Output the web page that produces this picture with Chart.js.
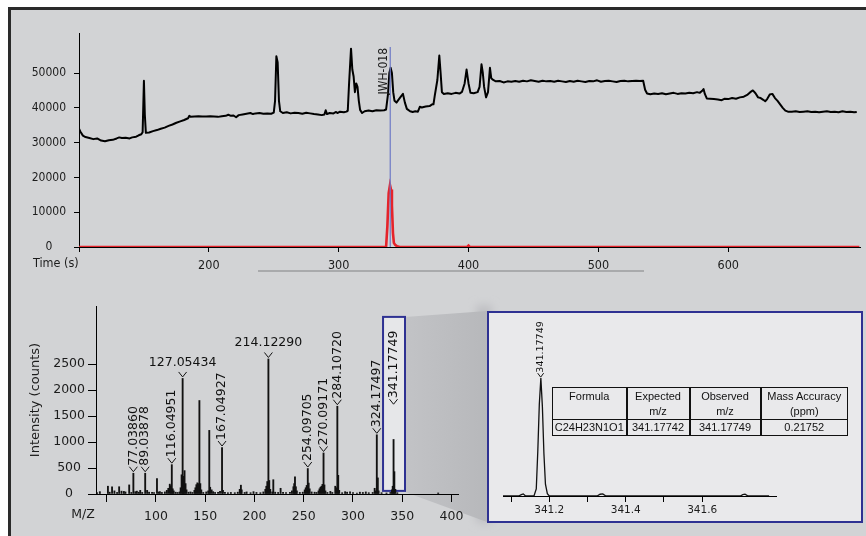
<!DOCTYPE html>
<html>
<head>
<meta charset="utf-8">
<script src="https://cdn.jsdelivr.net/npm/chart.js@4.4.0/dist/chart.umd.min.js"></script>
<style>
  html, body { margin:0; padding:0; background:#ffffff; }
  body { width:866px; height:536px; overflow:hidden; position:relative; }
  .abs { position:absolute; }
  #panel { left:8px; top:7px; width:870px; height:540px; background:#d2d3d5;
           border-top:3px solid #2a2a2a; border-left:3px solid #2a2a2a; box-sizing:border-box; }
  #scrollLine { left:258px; top:270px; width:386px; height:2px; background:#a9aaac; }
  #insetBox { left:487px; top:311px; width:376px; height:212px; box-sizing:border-box;
              border:2.5px solid #2e3192; background:#e9e9eb; }
  #acc { left:552px; top:387px; border-collapse:collapse; table-layout:fixed; width:295px;
         font-family:'Liberation Sans', Arial, sans-serif; font-size:11px; color:#111; }
  #acc td { border:1px solid #111; padding:0; text-align:center; line-height:14.6px; }
  #acc td + td { border-left:2px solid #111; }
  #acc tr.h td { height:30px; vertical-align:top; padding-top:1px; }
  #acc tr.d td { height:15px; vertical-align:middle; }
</style>
</head>
<body>
<div id="panel" class="abs"></div>
<div id="scrollLine" class="abs"></div>
<svg class="abs" style="left:0;top:0" width="866" height="536">
  <defs>
    <linearGradient id="fan" x1="0" x2="1" y1="0" y2="0">
      <stop offset="0" stop-color="#c2c3c6"/>
      <stop offset="1" stop-color="#b7b8bb"/>
    </linearGradient>
    <filter id="soft" x="-50%" y="-20%" width="200%" height="140%"><feGaussianBlur stdDeviation="4"/></filter>
  </defs>
  <rect x="476" y="305" width="16" height="218" fill="#bfc0c3" filter="url(#soft)"/>
  <polygon points="405,317 487,311 487,522 405,492" fill="url(#fan)"/>
</svg>
<div id="insetBox" class="abs"></div>
<canvas id="insetChart" class="abs" style="left:487px;top:311px" width="376" height="212"></canvas>
<table id="acc" class="abs">
  <colgroup><col style="width:74px"><col style="width:63px"><col style="width:71px"><col style="width:87px"></colgroup>
  <tr class="h"><td>Formula</td><td>Expected<br>m/z</td><td>Observed<br>m/z</td><td>Mass Accuracy<br>(ppm)</td></tr>
  <tr class="d"><td>C24H23N1O1</td><td>341.17742</td><td>341.17749</td><td>0.21752</td></tr>
</table>
<canvas id="ticChart" class="abs" style="left:0;top:0" width="866" height="290"></canvas>
<canvas id="specChart" class="abs" style="left:0;top:290px" width="480" height="246"></canvas>

<script>
// ---------------- DATA ----------------
// Total ion chromatogram (time s, intensity)
const ticTime = [100,101,103,105,108,111,114,117,120,123,126,129,131,133,136,139,141,144,146,148,149,150,150.7,151.5,154,157,160,163,166,169,172,175,178,181,184,185,186,189,192,195,198,201,204,207,210,213,215,217,219,221,223,226,229,232,234,236,239,242,245,248,250,251,252,253,254,255,257,260,263,266,269,272,275,278,281,284,287,289,290,291,293,296,298,299,301,304,306,307,308,309.5,310.5,311.5,312.5,313.5,314.5,315.5,316.5,318,320,323,326,329,332,335,336.5,338,339,340,341,342,343,344.5,346,348,349.5,351,352.5,355,357,359,361,362.5,364,367,370,372,373,374,376,377.5,378.5,379.5,381,384,387,390,393,395,397,398.5,400,401.5,404,407,408.5,410,411,412,413.5,415,416.5,417.5,419,421,424,427,430,433,436,439,442,445,448,451,454,457,460,463,466,469,472,475,478,481,484,487,490,493,496,499,502,505,508,511,514,517,520,523,526,529,532,534.5,536,537.5,540,543,546,549,552,555,558,561,564,567,570,573,576,578,580,581,582,583.5,586,589,592,595,597,600,603,606,609,612,615,617,619,621,623,625,627,628.5,630,632,634,636,638,640,642,644,646,649,652,655,658,661,664,667,670,673,676,679,682,685,688,691,694,697,699];
const ticIntensity = [34000,33200,32000,31600,31300,31000,31200,30600,30400,30700,30800,31200,31500,31300,31400,31200,31500,31700,32100,32400,33000,47800,38000,32800,32900,33300,33600,34000,34300,34800,35200,35700,36100,36500,37000,37700,37400,37500,37600,37500,37500,37600,37500,37400,37600,37700,38000,37700,37800,37300,37900,38100,38300,38500,38200,38400,38500,38300,38400,38300,38600,42000,54800,53000,42000,39000,38500,38700,38400,38600,38500,38300,38600,38400,38200,38100,37900,38100,39300,38200,38500,38400,38800,38500,38900,38700,38900,39200,47000,57000,51000,49000,44500,47000,46000,42000,39400,38500,39000,39200,39000,39300,39200,39300,39500,44000,50000,51500,50000,44500,42000,41500,42300,43300,44000,41500,39700,39000,38800,39000,38900,40300,40100,40400,40500,41000,41000,43500,48000,55000,50000,44500,44000,44200,44000,44300,44100,44600,47000,51000,47000,44300,44200,44500,46000,52500,50000,46000,43000,44500,51500,48500,48000,47600,47700,47300,47600,47500,47700,47500,47800,47600,47900,47700,47500,47800,47600,47700,47500,47800,47600,47400,47700,47500,47800,47600,47400,47700,47600,47900,47500,47700,47800,47600,47400,47700,47800,47600,47700,47800,47700,47800,45200,44100,43900,44100,44000,44200,43900,44100,44300,44000,44200,44100,44300,44200,44500,44300,44900,45400,44000,42700,42600,42500,42400,42200,42600,42500,42800,42600,43000,43200,43800,44500,45000,44200,43000,42800,42300,41900,42500,43800,44000,42800,42000,41000,40000,39200,38900,38900,39000,38800,38900,39000,38800,38900,38700,38900,39000,38800,38900,38700,39000,38800,38900,38700,38800];
// Extracted ion chromatogram for JWH-018
const eicTime = [100,336.5,337.5,338.5,339.5,340.3,341,341.8,342.5,343.5,345,347,399,400,401,701];
const eicIntensity = [0,0,6000,15500,17800,16500,12000,4000,1200,600,200,0,0,400,0,0];
const markerName = 'JWH-018';
const markerTime = 339.7;
const markerTopIntensity = 57500;
const timeTicks = [100,200,300,400,500,600];
const ticIntensityTicks = [0,10000,20000,30000,40000,50000];

// Mass spectrum (m/z, counts)
const peakMz = [40.2,43.0,51.2,53.0,55.4,57.8,60.5,62.6,65.0,67.4,69.0,72.8,75.0,77.04,79.0,80.6,82.5,84.0,86.0,89.04,91.0,93.0,96.0,98.0,101.0,102.5,104.0,106.0,109.0,111.0,112.5,114.0,115.0,116.05,117.0,118.0,120.0,122.0,124.0,125.0,126.0,127.05,127.6,128.1,129.0,130.0,131.0,133.0,135.0,137.0,139.0,140.0,141.0,142.0,143.0,144.07,145.0,146.0,148.0,151.0,153.0,154.1,155.0,156.5,158.0,160.0,163.0,165.0,167.05,168.0,170.0,173.0,176.0,180.0,183.0,185.0,186.2,187.0,190.0,192.0,196.0,199.0,202.0,206.0,209.0,211.0,212.0,213.0,214.12,215.0,216.0,218.0,219.1,221.0,224.0,226.5,229.0,232.0,236.0,238.0,239.5,240.3,241.1,242.0,243.0,246.0,249.0,251.0,252.0,253.0,254.1,255.0,256.0,258.0,261.0,263.0,265.0,266.0,267.0,268.0,269.0,270.09,271.0,272.0,274.0,277.0,279.0,282.0,283.0,284.11,285.0,286.0,289.0,292.0,294.0,297.0,300.0,304.0,307.0,310.0,313.0,316.0,320.0,322.0,323.0,324.17,325.2,326.0,329.0,334.0,338.0,339.5,340.3,341.18,342.0,343.0,345.0,386.5];
const peakIntensity = [25,45,150,35,140,60,30,140,55,50,40,175,30,400,45,55,35,70,30,400,70,35,30,25,295,40,45,30,40,70,110,190,160,565,100,60,35,30,40,120,370,2225,340,280,450,200,80,35,40,30,70,120,180,215,200,1800,200,80,30,40,60,1225,130,80,45,30,30,50,895,70,30,25,30,25,35,90,170,80,30,40,25,45,30,25,40,90,150,240,2600,260,90,40,275,35,30,110,30,25,30,60,140,200,330,140,60,30,35,80,120,165,490,210,100,40,35,30,60,100,130,150,185,790,175,60,30,50,30,150,120,1690,360,70,25,45,35,40,25,20,35,30,40,25,30,110,60,1140,310,60,25,20,30,80,150,1050,430,90,25,20];
const labelMz = [77.0386,89.03878,116.04951,127.05434,167.04927,214.1229,254.09705,270.09171,284.1072,324.17497,341.17749];
const labelText = ['77.03860','89.03878','116.04951','127.05434','167.04927','214.12290','254.09705','270.09171','284.10720','324.17497','341.17749'];
const labelIntensity = [400,400,565,2225,895,2600,490,790,1690,1140,1700];
const horizontalLabels = ['127.05434','214.12290'];
const zoomMzRange = [330.5,352.8];
const zoomIntensityRange = [60,3410];
const mzTicks = [50,100,150,200,250,300,350,400];
const countTicks = [0,500,1000,1500,2000,2500];

// Zoomed isotope region (m/z, relative intensity)
const insetMz = [341.079,341.120,341.127,341.132,341.138,341.160,341.166,341.170,341.174,341.178,341.182,341.186,341.190,341.195,341.200,341.325,341.333,341.340,341.348,341.700,341.706,341.712,341.720,341.775];
const insetIntensity = [0,0,1.2,1.8,0,0,6,38,78,100,76,36,10,2,0,0,1.5,1.8,0,0,1.2,1.5,0,0];
const insetLabelMz = 341.17749;
const insetLabelText = '341.17749';
const insetLabelIntensity = 100;
const insetTicks = [341.1,341.2,341.3,341.4,341.5,341.6];

// ---------------- CHARTS ----------------
Chart.defaults.font.family = "'DejaVu Sans', sans-serif";
Chart.defaults.color = '#1c1c1c';
Chart.defaults.animation = false;

const condensed = "'DejaVu Sans Condensed', 'DejaVu Sans', sans-serif";
const keepTicks = (list) => (scale) => {
  scale.ticks = list.map(v => ({ value: v }));
};

// --- Top chromatogram ---
const ticDecor = {
  id: 'ticDecor',
  afterDatasetsDraw(chart) {
    const { ctx, scales: { x, y }, chartArea } = chart;
    const px = x.getPixelForValue(markerTime);
    const top = y.getPixelForValue(markerTopIntensity);
    ctx.save();
    ctx.strokeStyle = '#6d78c6';
    ctx.lineWidth = 1.2;
    ctx.beginPath();
    ctx.moveTo(px, top);
    ctx.lineTo(px, chartArea.bottom);
    ctx.stroke();
    ctx.translate(px - 3.5, top + 1);
    ctx.rotate(-Math.PI / 2);
    ctx.fillStyle = '#1c1c1c';
    ctx.font = "12px " + condensed;
    ctx.textAlign = 'right';
    ctx.textBaseline = 'alphabetic';
    ctx.fillText(markerName, 0, 0);
    ctx.restore();
  },
  afterDraw(chart) {
    const { ctx } = chart;
    ctx.save();
    ctx.fillStyle = '#1c1c1c';
    ctx.font = "12.5px " + condensed;
    ctx.textAlign = 'left';
    ctx.textBaseline = 'middle';
    ctx.fillText('Time (s)', 33, 264);
    ctx.restore();
  }
};

new Chart(document.getElementById('ticChart'), {
  type: 'line',
  data: {
    datasets: [
      { label: 'EIC', data: eicTime.map((t, i) => ({ x: t, y: eicIntensity[i] })),
        borderColor: '#e5232b', borderWidth: 2.6, pointRadius: 0, tension: 0, order: 0 },
      { label: 'TIC', data: ticTime.map((t, i) => ({ x: t, y: ticIntensity[i] })),
        borderColor: '#000000', borderWidth: 2, pointRadius: 0, tension: 0, order: 1, borderJoinStyle: 'round' }
    ]
  },
  options: {
    responsive: false, events: [],
    layout: { padding: { top: 33, right: 6, left: 0, bottom: 0 } },
    plugins: { legend: { display: false }, tooltip: { enabled: false } },
    scales: {
      x: {
        type: 'linear', min: 100, max: 701.5,
        border: { color: '#000', width: 1 },
        grid: { drawOnChartArea: false, tickLength: 5, tickColor: '#000' },
        ticks: { padding: 6, maxRotation: 0, autoSkip: false, font: { family: condensed, size: 12.5 },
                 callback: (v) => (v === timeTicks[0] ? '' : String(v)) },
        afterBuildTicks: keepTicks(timeTicks),
        afterFit: (s) => { s.height = 43; }
      },
      y: {
        min: 0, max: 61500,
        border: { color: '#000', width: 1 },
        grid: { drawOnChartArea: false, tickLength: 5, tickColor: '#000' },
        ticks: { padding: 8, crossAlign: 'center', font: { family: condensed, size: 12 },
                 callback: (v) => String(v) },
        afterBuildTicks: keepTicks(ticIntensityTicks),
        afterFit: (s) => { s.width = 79; }
      }
    }
  },
  plugins: [ticDecor]
});

// --- Mass spectrum ---
function drawChevron(ctx, px, py, half, h) {
  ctx.beginPath();
  ctx.moveTo(px - half, py - h);
  ctx.lineTo(px, py);
  ctx.lineTo(px + half, py - h);
  ctx.stroke();
}

const specDecor = {
  id: 'specDecor',
  beforeDatasetsDraw(chart) {
    const { ctx, scales: { x, y } } = chart;
    const x0 = x.getPixelForValue(zoomMzRange[0]);
    const x1 = x.getPixelForValue(zoomMzRange[1]);
    const y0 = y.getPixelForValue(zoomIntensityRange[1]);
    const y1 = y.getPixelForValue(zoomIntensityRange[0]);
    ctx.save();
    ctx.fillStyle = '#e6e7e9';
    ctx.fillRect(x0, y0, x1 - x0, y1 - y0);
    ctx.strokeStyle = '#2e3192';
    ctx.lineWidth = 2;
    ctx.strokeRect(x0, y0, x1 - x0, y1 - y0);
    ctx.restore();
  },
  afterDatasetsDraw(chart) {
    const { ctx, scales: { x, y } } = chart;
    ctx.save();
    ctx.strokeStyle = '#111';
    ctx.fillStyle = '#111';
    ctx.lineWidth = 1;
    ctx.font = "12.5px 'DejaVu Sans', sans-serif";
    labelMz.forEach((mz, i) => {
      const px = x.getPixelForValue(mz);
      const py = y.getPixelForValue(labelIntensity[i]) - 1.5;
      drawChevron(ctx, px, py, 4, 5);
      const txt = labelText[i];
      if (horizontalLabels.includes(txt)) {
        ctx.textAlign = 'center';
        ctx.textBaseline = 'alphabetic';
        ctx.fillText(txt, px, py - 11);
      } else {
        ctx.save();
        ctx.translate(px, py - 6);
        ctx.rotate(-Math.PI / 2);
        ctx.textAlign = 'left';
        ctx.textBaseline = 'middle';
        ctx.fillText(txt, 0, 0);
        ctx.restore();
      }
    });
    ctx.restore();
  },
  afterDraw(chart) {
    const { ctx, chartArea } = chart;
    ctx.save();
    ctx.strokeStyle = '#000';
    ctx.lineWidth = 1;
    ctx.beginPath();
    ctx.moveTo(chartArea.left - 6, chartArea.bottom + 0.5);
    ctx.lineTo(chartArea.left, chartArea.bottom + 0.5);
    ctx.stroke();
    ctx.fillStyle = '#1c1c1c';
    ctx.font = "12.5px 'DejaVu Sans', sans-serif";
    ctx.textAlign = 'center';
    ctx.textBaseline = 'middle';
    ctx.fillText('M/Z', 83, 225);
    ctx.restore();
  }
};

new Chart(document.getElementById('specChart'), {
  type: 'bar',
  data: {
    datasets: [{ data: peakMz.map((m, i) => ({ x: m, y: peakIntensity[i] })),
                 backgroundColor: '#111', borderWidth: 0, barThickness: 1.2 }]
  },
  options: {
    responsive: false, events: [],
    layout: { padding: { top: 16, right: 22, left: 0, bottom: 0 } },
    plugins: { legend: { display: false }, tooltip: { enabled: false } },
    scales: {
      x: {
        type: 'linear', min: 39.1, max: 406.6, offset: false,
        border: { color: '#000', width: 1 },
        grid: { offset: false, drawOnChartArea: false, tickLength: 8, tickColor: '#000' },
        ticks: { padding: 7, maxRotation: 0, autoSkip: false, font: { size: 12.5 },
                 callback: (v) => (v === mzTicks[0] ? '' : String(v)) },
        afterBuildTicks: keepTicks(mzTicks),
        afterFit: (s) => { s.height = 42; }
      },
      y: {
        min: 0, max: 3620,
        border: { color: '#000', width: 1 },
        grid: { drawOnChartArea: false, tickLength: 8, tickColor: '#000' },
        ticks: { padding: 3, crossAlign: 'center', font: { size: 12.5 }, callback: (v) => String(v) },
        title: { display: true, text: 'Intensity (counts)', font: { size: 13 }, color: '#1c1c1c', padding: { top: 28, bottom: 0 } },
        afterBuildTicks: keepTicks(countTicks),
        afterFit: (s) => { s.width = 96; }
      }
    }
  },
  plugins: [specDecor]
});

// --- Inset (zoomed region) ---
const insetDecor = {
  id: 'insetDecor',
  afterDatasetsDraw(chart) {
    const { ctx, scales: { x, y } } = chart;
    const px = x.getPixelForValue(insetLabelMz);
    const py = y.getPixelForValue(insetLabelIntensity) - 1;
    ctx.save();
    ctx.strokeStyle = '#111';
    ctx.fillStyle = '#111';
    ctx.lineWidth = 1;
    drawChevron(ctx, px, py, 3, 4);
    ctx.translate(px, py - 4.5);
    ctx.rotate(-Math.PI / 2);
    ctx.font = "9.5px 'DejaVu Sans', sans-serif";
    ctx.textAlign = 'left';
    ctx.textBaseline = 'middle';
    ctx.fillText(insetLabelText, 0, 0);
    ctx.restore();
  }
};

new Chart(document.getElementById('insetChart'), {
  type: 'line',
  data: {
    datasets: [{ data: insetMz.map((m, i) => ({ x: m, y: insetIntensity[i] })),
                 borderColor: '#111', borderWidth: 1.3, pointRadius: 0, tension: 0 }]
  },
  options: {
    responsive: false, events: [],
    layout: { padding: { top: 20, right: 87, left: 16, bottom: 0 } },
    plugins: { legend: { display: false }, tooltip: { enabled: false } },
    scales: {
      x: {
        type: 'linear', min: 341.079, max: 341.793,
        border: { color: '#000', width: 1 },
        grid: { drawOnChartArea: false, tickLength: 6, tickColor: '#000' },
        ticks: { padding: 2, maxRotation: 0, autoSkip: false, font: { size: 10.5 },
                 callback: (v) => (Math.round(v * 10) % 2 === 0 ? v.toFixed(1) : '') },
        afterBuildTicks: keepTicks(insetTicks),
        afterFit: (s) => { s.height = 27; }
      },
      y: { display: false, min: 0, max: 140 }
    }
  },
  plugins: [insetDecor]
});
</script>
</body>
</html>
